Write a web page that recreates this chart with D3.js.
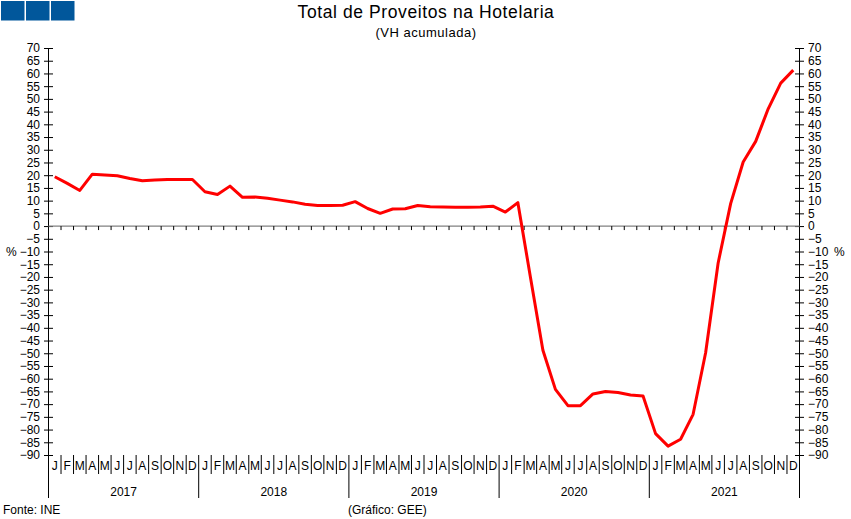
<!DOCTYPE html>
<html>
<head>
<meta charset="utf-8">
<script src="https://cdn.jsdelivr.net/npm/d3@7"></script>
<style>
  html, body { margin: 0; padding: 0; background: #fff; }
  svg { display: block; font-family: Arial, "Liberation Sans", sans-serif; }
</style>
</head>
<body>
<svg id="chart" width="851" height="519"></svg>
<script>
const years = ["2017", "2018", "2019", "2020", "2021"];
const monthLabels = ["J", "F", "M", "A", "M", "J", "J", "A", "S", "O", "N", "D"];
const values2017 = [19.4, 16.8, 14.0, 20.4, 20.1, 19.8, 18.7, 17.8, 18.1, 18.3, 18.3, 18.3];
const values2018 = [13.5, 12.4, 15.7, 11.3, 11.4, 10.9, 10.2, 9.5, 8.6, 8.1, 8.1, 8.2];
const values2019 = [9.6, 6.9, 5.0, 6.7, 6.8, 8.1, 7.6, 7.5, 7.4, 7.4, 7.5, 7.8];
const values2020 = [5.5, 9.2, -20.0, -48.8, -64.2, -70.6, -70.6, -66.0, -65.0, -65.4, -66.4, -66.8];
const values2021 = [-81.6, -86.5, -83.8, -74.0, -49.8, -14.5, 8.8, 25.2, 33.3, 46.1, 56.2, 61.3];
const yTicks = d3.range(-90, 71, 5);
const title = "Total de Proveitos na Hotelaria";
const subtitle = "(VH acumulada)";
const source = "Fonte: INE";
const credit = "(Gráfico: GEE)";

const values = [].concat(values2017, values2018, values2019, values2020, values2021);
const nMonths = values.length;

const svg = d3.select("#chart");
const pL = 48.5, pR = 799.5, pT = 48, pB = 455;
const x = d3.scaleLinear().domain([0, nMonths]).range([pL, pR]);
const y = d3.scaleLinear().domain([-90, 70]).range([pB, pT]);

// logo
const logo = svg.append("g");
[0, 1, 2].forEach(i => {
  logo.append("rect").attr("x", 1 + i * 25).attr("y", 1).attr("width", 23.5).attr("height", 19.5).attr("fill", "#01579b");
});

// titles
svg.append("text").attr("x", 426).attr("y", 17.5).attr("text-anchor", "middle")
  .attr("font-size", 17.5).attr("letter-spacing", 0.6).attr("fill", "#000").text(title);
svg.append("text").attr("x", 426).attr("y", 36.5).attr("text-anchor", "middle")
  .attr("font-size", 13).attr("letter-spacing", 0.5).attr("fill", "#000").text(subtitle);

// left axis
const axL = d3.axisLeft(y).tickValues(yTicks).tickSize(4.5).tickPadding(4).tickFormat(d3.format("d"));
const gL = svg.append("g").attr("transform", `translate(${pL},0)`).call(axL);
gL.select(".domain").remove();
gL.selectAll(".tick line").attr("stroke", "#000");
gL.selectAll(".tick").append("line").attr("x1", 0).attr("x2", 4.5).attr("stroke", "#000");
gL.selectAll(".tick text").attr("font-size", 12).attr("font-family", "Arial, 'Liberation Sans', sans-serif").attr("fill", "#000");

// right axis
const axR = d3.axisRight(y).tickValues(yTicks).tickSize(4.5).tickPadding(4).tickFormat(d3.format("d"));
const gR = svg.append("g").attr("transform", `translate(${pR},0)`).call(axR);
gR.select(".domain").remove();
gR.selectAll(".tick line").attr("stroke", "#000");
gR.selectAll(".tick").append("line").attr("x1", 0).attr("x2", -4.5).attr("stroke", "#000");
gR.selectAll(".tick text").attr("font-size", 12).attr("font-family", "Arial, 'Liberation Sans', sans-serif").attr("fill", "#000");

// axis lines
svg.append("line").attr("x1", pL).attr("x2", pL).attr("y1", pT).attr("y2", 498).attr("stroke", "#000");
svg.append("line").attr("x1", pR).attr("x2", pR).attr("y1", pT).attr("y2", pB).attr("stroke", "#000");

// % labels
svg.append("text").attr("x", 6).attr("y", 256).attr("font-size", 12).text("%");
svg.append("text").attr("x", 834).attr("y", 256).attr("font-size", 12).text("%");

// zero line with month ticks
svg.append("line").attr("x1", pL).attr("x2", pR).attr("y1", y(0)).attr("y2", y(0))
  .attr("stroke", "#808080").attr("stroke-width", 1.2);
svg.append("g").selectAll("line").data(d3.range(1, nMonths)).join("line")
  .attr("x1", d => x(d)).attr("x2", d => x(d))
  .attr("y1", y(0)).attr("y2", y(0) + 4).attr("stroke", "#000");

// month labels and separators
const gM = svg.append("g");
gM.selectAll("line.sep").data(d3.range(1, nMonths)).join("line").attr("class", "sep")
  .attr("x1", d => x(d)).attr("x2", d => x(d))
  .attr("y1", pB).attr("y2", d => d % 12 === 0 ? 498 : 474)
  .attr("stroke", "#000");
svg.append("line").attr("x1", pR).attr("x2", pR).attr("y1", pB).attr("y2", 498).attr("stroke", "#000");
gM.selectAll("text").data(values.map((v, i) => i)).join("text")
  .attr("x", d => x(d + 0.5)).attr("y", 470).attr("text-anchor", "middle")
  .attr("font-size", 12).text(d => monthLabels[d % 12]);
svg.append("g").selectAll("text").data(years).join("text")
  .attr("x", (d, i) => x(i * 12 + 6)).attr("y", 496).attr("text-anchor", "middle")
  .attr("font-size", 12).text(d => d);

// line
const line = d3.line().x((d, i) => x(i + 0.5)).y(d => y(d));
svg.append("path").datum(values).attr("d", line).attr("fill", "none")
  .attr("stroke", "#ff0000").attr("stroke-width", 3).attr("stroke-linejoin", "round");

// footer
svg.append("text").attr("x", 3).attr("y", 514).attr("font-size", 12).text(source);
svg.append("text").attr("x", 348).attr("y", 514).attr("font-size", 12).text(credit);
</script>
</body>
</html>
